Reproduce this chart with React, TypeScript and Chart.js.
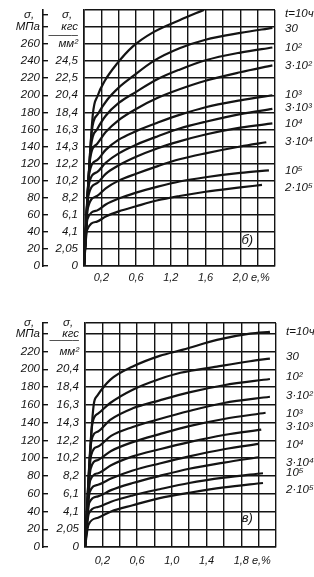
import React, { useEffect, useRef } from "react";
import { Chart, registerables } from "chart.js";

Chart.register(...registerables);

const FONT = "'Liberation Sans', 'DejaVu Sans', Arial, sans-serif";
const INK = "#141414";

// ---------- shared x axis ----------
const xTickValues = [0.2, 0.6, 1.0, 1.4, 1.8, 2.0];
const topXTickLabels = ["0,2", "0,6", "1,2", "1,6", "2,0", "\u2002e,%"];
const bottomXTickLabels = ["0,2", "0,6", "1,0", "1,4", "1,8", "\u2002e,%"];

// ---------- series names (curve labels at right) ----------
const seriesNames = ["t=10ч", "30", "10²", "3·10²", "10³", "3·10³", "10⁴", "3·10⁴", "10⁵", "2·10⁵"];

// ---------- top chart (б) ----------
const topLabelAt = [296, 278, 256, 235, 200, 185, 166, 145, 111, 92];
const top_10: number[][] = [[0, 0], [0.1, 176], [0.16, 200], [0.24, 217], [0.38, 237], [0.56, 257], [0.8, 274], [1.1, 288], [1.38, 300]];
const top_30: number[][] = [[0, 0], [0.09, 158], [0.16, 178], [0.27, 195], [0.4, 209], [0.56, 222], [0.8, 240], [1.1, 255], [1.4, 265], [1.8, 273], [2.17, 279]];
const top_1e2: number[][] = [[0, 0], [0.08, 140], [0.15, 160], [0.25, 176], [0.4, 191], [0.6, 204], [0.85, 219], [1.1, 230], [1.4, 241], [1.8, 250], [2.17, 256]];
const top_3e2: number[][] = [[0, 0], [0.07, 125], [0.15, 143], [0.25, 157], [0.4, 171], [0.6, 184], [0.85, 197], [1.1, 207], [1.4, 217], [1.8, 227], [2.17, 235]];
const top_1e3: number[][] = [[0, 0], [0.06, 108], [0.15, 124], [0.25, 136], [0.4, 148], [0.6, 158], [0.85, 168], [1.1, 177], [1.4, 186], [1.8, 194], [2.17, 200]];
const top_3e3: number[][] = [[0, 0], [0.055, 95], [0.15, 110], [0.25, 121], [0.4, 132], [0.6, 142], [0.85, 152], [1.1, 161], [1.4, 169], [1.8, 178], [2.17, 184]];
const top_1e4: number[][] = [[0, 0], [0.05, 82], [0.15, 97], [0.25, 108], [0.4, 118], [0.6, 128], [0.85, 138], [1.1, 146], [1.4, 154], [1.8, 162], [2.17, 167]];
const top_3e4: number[][] = [[0, 0], [0.045, 68], [0.15, 82], [0.25, 91], [0.4, 100], [0.6, 108], [0.85, 117], [1.1, 125], [1.4, 132], [1.8, 140], [2.1, 145]];
const top_1e5: number[][] = [[0, 0], [0.04, 55], [0.15, 65], [0.25, 72], [0.4, 79], [0.6, 86], [0.85, 93], [1.1, 99], [1.4, 104], [1.8, 109], [2.13, 112]];
const top_2e5: number[][] = [[0, 0], [0.035, 42], [0.15, 52], [0.25, 58], [0.4, 64], [0.6, 70], [0.85, 77], [1.1, 82], [1.4, 87], [1.8, 92], [2.05, 95]];
const topCurves = [top_10, top_30, top_1e2, top_3e2, top_1e3, top_3e3, top_1e4, top_3e4, top_1e5, top_2e5];

const topMpaValues = [0, 20, 40, 60, 80, 100, 120, 140, 160, 180, 200, 220, 240, 260];
const topKgfLabels = ["0", "2,05", "4,1", "6,1", "8,2", "10,2", "12,2", "14,3", "16,3", "18,4", "20,4", "22,5", "24,5"];

// ---------- bottom chart (в) ----------
const bottomLabelAt = [242, 214, 192, 170, 150, 135, 115, 95, 84, 64];
const bot_10: number[][] = [[0, 0], [0.1, 160], [0.14, 170], [0.29, 188], [0.55, 203], [0.86, 215], [1.13, 222], [1.52, 233], [1.9, 240], [2.13, 242]];
const bot_30: number[][] = [[0, 0], [0.085, 139], [0.15, 150], [0.29, 162], [0.55, 177], [0.86, 189], [1.1, 196], [1.52, 203], [1.9, 209], [2.13, 212]];
const bot_1e2: number[][] = [[0, 0], [0.075, 120], [0.15, 130], [0.29, 143], [0.55, 156], [0.86, 165], [1.2, 174], [1.6, 182], [2.13, 189]];
const bot_3e2: number[][] = [[0, 0], [0.07, 103], [0.15, 113], [0.3, 125], [0.55, 135], [0.86, 144], [1.2, 153], [1.6, 162], [2.13, 169]];
const bot_1e3: number[][] = [[0, 0], [0.065, 88], [0.15, 98], [0.3, 108], [0.55, 118], [0.86, 127], [1.2, 136], [1.6, 144], [2.08, 151]];
const bot_3e3: number[][] = [[0, 0], [0.06, 75], [0.15, 83], [0.3, 92], [0.55, 102], [0.86, 110], [1.2, 118], [1.6, 126], [2.03, 132]];
const bot_1e4: number[][] = [[0, 0], [0.055, 62], [0.15, 70], [0.3, 77], [0.55, 86], [0.86, 94], [1.2, 102], [1.6, 110], [2.0, 116]];
const bot_3e4: number[][] = [[0, 0], [0.05, 50], [0.15, 57], [0.3, 64], [0.55, 72], [0.86, 80], [1.2, 88], [1.6, 95], [2.0, 101]];
const bot_1e5: number[][] = [[0, 0], [0.045, 38], [0.15, 45], [0.3, 51], [0.55, 58], [0.86, 65], [1.2, 72], [1.6, 78], [2.05, 83]];
const bot_2e5: number[][] = [[0, 0], [0.04, 25], [0.15, 33], [0.3, 40], [0.55, 47], [0.86, 55], [1.2, 61], [1.6, 67], [2.05, 72]];
const bottomCurves = [bot_10, bot_30, bot_1e2, bot_3e2, bot_1e3, bot_3e3, bot_1e4, bot_3e4, bot_1e5, bot_2e5];

const bottomMpaValues = [0, 20, 40, 60, 80, 100, 120, 140, 160, 180, 200, 220];
const bottomKgfLabels = ["0", "2,05", "4,1", "6,1", "8,2", "10,2", "12,2", "14,3", "16,3", "18,4", "20,4"];

type Tick = { value: number; label: string; grid: boolean; mark: boolean };

type PanelSpec = {
  yMax: number;
  curves: number[][][];
  labelAt: number[];
  mpaValues: number[];
  mpaUnitAt: number;
  sigmaAt: number;
  kgfLabels: string[];
  mmAt: number;
  barAt: number;
  kgsAt: number;
  topBorderTick: boolean;
  xLabels: string[];
  panelText: string;
  panelAt: [number, number];
  layoutTop: number;
  mpaWidth: number;
  kgfWidth: number;
  rightWidth: number;
  xHeight: number;
  xPad: number;
};

const panelLabelPlugin = {
  id: "panelLabel",
  afterDatasetsDraw(chart: any, _args: any, opts: any) {
    const { ctx } = chart;
    const xs = chart.scales.x;
    const ys = chart.scales.y;
    ctx.save();
    ctx.font = `italic 13px ${FONT}`;
    ctx.fillStyle = INK;
    ctx.textAlign = "center";
    ctx.textBaseline = "middle";
    ctx.fillText(opts.text, xs.getPixelForValue(opts.x), ys.getPixelForValue(opts.y));
    ctx.restore();
  },
};

function makeConfig(s: PanelSpec): any {
  const font = { family: FONT, size: 11.5, style: "italic" as const };

  const inner: Tick[] = [];
  s.kgfLabels.forEach((lab, i) => inner.push({ value: i * 20, label: lab, grid: true, mark: true }));
  inner.push({ value: s.mmAt, label: "мм²", grid: true, mark: true });
  inner.push({ value: s.barAt, label: "——–", grid: false, mark: false });
  inner.push({ value: s.kgsAt, label: "кгс", grid: true, mark: true });
  inner.push({ value: s.sigmaAt, label: "σ,\u2002", grid: s.sigmaAt === s.yMax, mark: true });
  if (s.topBorderTick) inner.push({ value: s.yMax, label: "", grid: true, mark: false });
  inner.sort((a, b) => a.value - b.value);

  const outer = s.mpaValues.map((v) => ({ value: v, label: String(v) }));
  outer.push({ value: s.mpaUnitAt, label: "МПа" });
  outer.push({ value: s.sigmaAt, label: "σ,\u2002" });

  const findInner = (v: number) => inner.find((t) => Math.abs(t.value - v) < 1e-6);

  const datasets = s.curves.map((pts, i) => ({
    label: seriesNames[i],
    data: pts.map(([x, y]) => ({ x, y })),
    borderColor: INK,
    borderWidth: 2.2,
    pointRadius: 0,
    fill: false,
    cubicInterpolationMode: "monotone",
    yAxisID: "y",
    xAxisID: "x",
  }));

  return {
    type: "line",
    data: { datasets },
    plugins: [panelLabelPlugin],
    options: {
      animation: false,
      responsive: false,
      devicePixelRatio: 1,
      events: [],
      layout: { padding: { top: s.layoutTop, left: 0, right: 0, bottom: 0 } },
      plugins: {
        legend: { display: false },
        tooltip: { enabled: false },
        panelLabel: { text: s.panelText, x: s.panelAt[0], y: s.panelAt[1] },
      },
      scales: {
        x: {
          type: "linear",
          position: "bottom",
          min: 0,
          max: 2.2,
          grid: { color: INK, lineWidth: 1.4, drawTicks: false },
          border: { display: true, color: INK, width: 1.6 },
          ticks: {
            stepSize: 0.2,
            autoSkip: false,
            maxRotation: 0,
            padding: s.xPad,
            color: INK,
            font: { ...font, size: 11 },
            callback: (v: number) => {
              const idx = xTickValues.findIndex((t) => Math.abs(t - v) < 1e-6);
              return idx >= 0 ? s.xLabels[idx] : "";
            },
          },
          afterFit: (scale: any) => {
            scale.height = s.xHeight;
          },
        },
        y: {
          type: "linear",
          position: "left",
          weight: 0,
          min: 0,
          max: s.yMax,
          afterBuildTicks: (scale: any) => {
            scale.ticks = inner.map((t) => ({ value: t.value }));
          },
          grid: {
            lineWidth: 1.4,
            drawTicks: true,
            tickLength: s.kgfWidth,
            tickWidth: 1.4,
            tickBorderDash: [5, 400],
            color: (ctx: any) => (ctx.tick && findInner(ctx.tick.value)?.grid ? INK : "rgba(0,0,0,0)"),
            tickColor: (ctx: any) => (ctx.tick && findInner(ctx.tick.value)?.mark ? INK : "rgba(0,0,0,0)"),
          },
          border: { display: true, color: INK, width: 1.6 },
          ticks: {
            autoSkip: false,
            padding: -(s.kgfWidth - 6),
            color: INK,
            font,
            callback: (v: number) => findInner(v)?.label ?? "",
          },
          afterFit: (scale: any) => {
            scale.width = s.kgfWidth;
          },
        },
        yM: {
          type: "linear",
          position: "left",
          weight: 1,
          min: 0,
          max: s.yMax,
          afterBuildTicks: (scale: any) => {
            scale.ticks = outer.map((t) => ({ value: t.value })).sort((a, b) => a.value - b.value);
          },
          grid: { display: true, drawOnChartArea: false, drawTicks: false, color: "rgba(0,0,0,0)" },
          border: { display: true, color: INK, width: 1.6 },
          ticks: {
            autoSkip: false,
            padding: 3,
            color: INK,
            font,
            callback: (v: number) => outer.find((t) => Math.abs(t.value - v) < 1e-6)?.label ?? "",
          },
          afterFit: (scale: any) => {
            scale.width = s.mpaWidth;
          },
        },
        yR: {
          type: "linear",
          position: "right",
          min: 0,
          max: s.yMax,
          afterBuildTicks: (scale: any) => {
            scale.ticks = s.labelAt.map((v) => ({ value: v })).sort((a, b) => a.value - b.value);
          },
          grid: { display: false, drawOnChartArea: false },
          border: { display: false },
          ticks: {
            autoSkip: false,
            padding: 2,
            color: INK,
            font,
            callback: (v: number) => {
              const idx = s.labelAt.findIndex((t) => Math.abs(t - v) < 1e-6);
              return idx >= 0 ? seriesNames[idx] : "";
            },
          },
          afterFit: (scale: any) => {
            scale.width = s.rightWidth;
          },
        },
      },
    },
  };
}

const topSpec: PanelSpec = {
  yMax: 300,
  curves: topCurves,
  labelAt: topLabelAt,
  mpaValues: topMpaValues,
  mpaUnitAt: 280,
  sigmaAt: 294,
  kgfLabels: topKgfLabels,
  mmAt: 260,
  barAt: 271,
  kgsAt: 280,
  topBorderTick: true,
  xLabels: topXTickLabels,
  panelText: "б)",
  panelAt: [1.88, 30],
  layoutTop: 9,
  mpaWidth: 43,
  kgfWidth: 41,
  rightWidth: 39,
  xHeight: 26,
  xPad: 5,
};

const bottomSpec: PanelSpec = {
  yMax: 252,
  curves: bottomCurves,
  labelAt: bottomLabelAt,
  mpaValues: bottomMpaValues,
  mpaUnitAt: 240,
  sigmaAt: 252,
  kgfLabels: bottomKgfLabels,
  mmAt: 220,
  barAt: 233,
  kgsAt: 240,
  topBorderTick: false,
  xLabels: bottomXTickLabels,
  panelText: "в)",
  panelAt: [1.87, 32],
  layoutTop: 31,
  mpaWidth: 43,
  kgfWidth: 42,
  rightWidth: 38,
  xHeight: 30,
  xPad: 7,
};

function Panel({ spec, top, height }: { spec: PanelSpec; top: number; height: number }) {
  const ref = useRef<HTMLCanvasElement | null>(null);
  useEffect(() => {
    if (!ref.current) return;
    const chart = new Chart(ref.current, makeConfig(spec));
    return () => chart.destroy();
  }, [spec]);
  return (
    <canvas
      ref={ref}
      width={314}
      height={height}
      style={{ position: "absolute", left: 0, top, width: 314, height, display: "block" }}
    />
  );
}

export default function App() {
  return (
    <div style={{ position: "absolute", left: 0, top: 0, width: 314, height: 577, background: "#fff" }}>
      <Panel spec={topSpec} top={0} height={292} />
      <Panel spec={bottomSpec} top={292} height={285} />
    </div>
  );
}
